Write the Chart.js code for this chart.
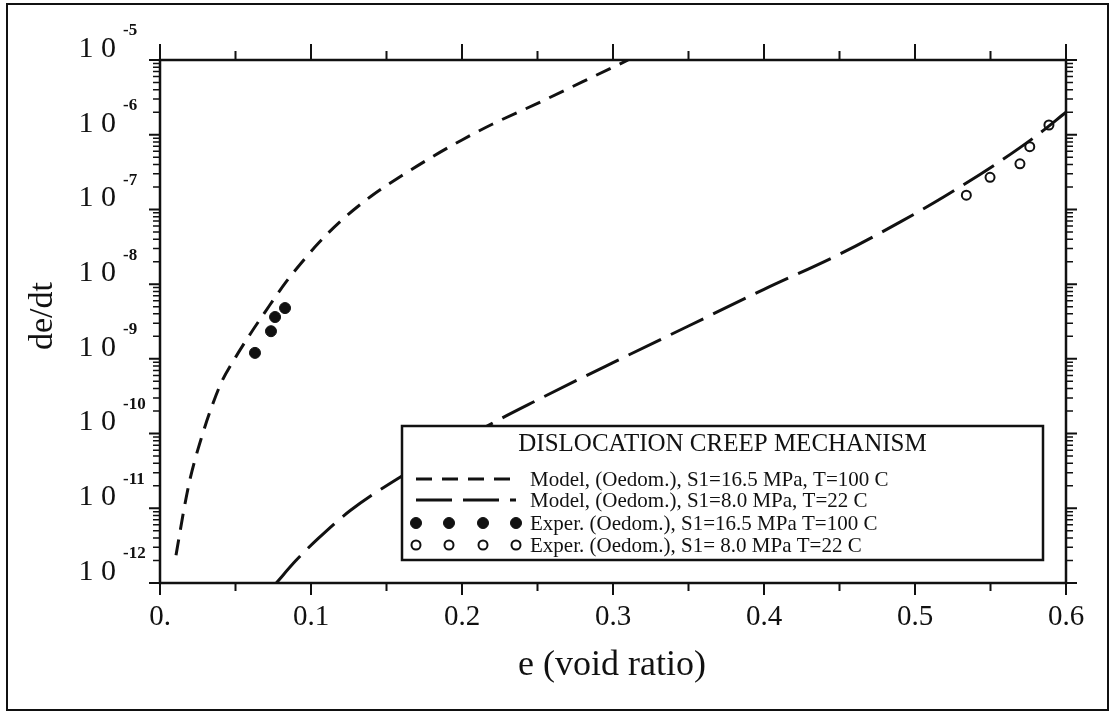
<!DOCTYPE html>
<html>
<head>
<meta charset="utf-8">
<script src="https://cdn.jsdelivr.net/npm/chart.js@4.4.1/dist/chart.umd.min.js"></script>
<style>
  html, body { margin: 0; padding: 0; background: #fff; }
  #wrap { width: 1112px; height: 714px; }
</style>
</head>
<body>
<div id="wrap"><canvas id="creepChart" width="1112" height="714"></canvas></div>
<script>
// Model curve, S1=16.5 MPa, T=100 C  (void ratio, log10 of de/dt)
const hotModelE   = [0.0106, 0.016, 0.02, 0.028, 0.035, 0.041, 0.05, 0.06, 0.07, 0.0835, 0.093, 0.105, 0.12, 0.14, 0.16, 0.18, 0.2, 0.22, 0.25, 0.28, 0.31];
const hotModelLog = [-11.63, -11.0, -10.6, -10.02, -9.6, -9.3, -8.98, -8.66, -8.36, -7.97, -7.73, -7.45, -7.15, -6.82, -6.55, -6.3, -6.07, -5.86, -5.58, -5.29, -5.0];

// Model curve, S1=8.0 MPa, T=22 C
const coldModelE   = [0.077, 0.09, 0.105, 0.126, 0.16, 0.19, 0.2166, 0.25, 0.3, 0.35, 0.4, 0.45, 0.49, 0.52, 0.556, 0.58, 0.6];
const coldModelLog = [-12.0, -11.7, -11.4, -11.03, -10.57, -10.22, -9.9, -9.55, -9.05, -8.56, -8.07, -7.6, -7.17, -6.82, -6.36, -6.02, -5.7];

// Oedometer measurements
const hotExpE   = [0.0629, 0.0735, 0.0762, 0.0828];
const hotExpLog = [-8.92, -8.63, -8.44, -8.32];
const coldExpE   = [0.534, 0.5497, 0.5695, 0.576, 0.5887];
const coldExpLog = [-6.81, -6.57, -6.39, -6.16, -5.87];

const xMajorTicks = [0, 0.1, 0.2, 0.3, 0.4, 0.5, 0.6];
const xTickLabels = ['0.', '0.1', '0.2', '0.3', '0.4', '0.5', '0.6'];
const xMinorTicks = [0.05, 0.15, 0.25, 0.35, 0.45, 0.55];
const yDecades = [-5, -6, -7, -8, -9, -10, -11, -12];

const legendTitle = 'DISLOCATION CREEP MECHANISM';
const seriesLabels = [
  'Model, (Oedom.), S1=16.5 MPa, T=100 C',
  'Model, (Oedom.), S1=8.0 MPa, T=22 C',
  'Exper. (Oedom.), S1=16.5 MPa T=100 C',
  'Exper. (Oedom.), S1= 8.0 MPa T=22 C'
];

const INK = '#111';
const SERIF = '"Liberation Serif", "DejaVu Serif", serif';

function toPoints(es, logs) {
  return es.map((e, i) => ({ x: e, y: Math.pow(10, logs[i]) }));
}

// frame, ticks, tick labels, titles and the boxed legend
const decorPlugin = {
  id: 'decor',
  afterDatasetsDraw(chart) {
    const { ctx, chartArea: a, scales: { x, y } } = chart;
    ctx.save();
    ctx.strokeStyle = INK;
    ctx.fillStyle = INK;
    ctx.setLineDash([]);

    // outer border
    ctx.lineWidth = 2;
    ctx.strokeRect(7, 4, 1101, 706);

    // legend box (drawn over the curves)
    const lx = 402, ly = 426, lw = 641, lh = 134;
    ctx.fillStyle = '#fff';
    ctx.fillRect(lx, ly, lw, lh);
    ctx.lineWidth = 2.5;
    ctx.strokeRect(lx, ly, lw, lh);
    ctx.fillStyle = INK;
    ctx.font = '25px ' + SERIF;
    ctx.textAlign = 'center';
    ctx.textBaseline = 'middle';
    ctx.fillText(legendTitle, lx + lw / 2, 444);

    const rows = [479, 500, 523, 545];
    ctx.font = '21px ' + SERIF;
    ctx.textAlign = 'left';
    chart.data.datasets.forEach((ds, i) => {
      const ry = rows[i];
      if (ds.showLine) {
        ctx.lineWidth = 3;
        ctx.setLineDash(ds.borderDash);
        ctx.beginPath();
        ctx.moveTo(416, ry);
        ctx.lineTo(516, ry);
        ctx.stroke();
        ctx.setLineDash([]);
      } else {
        [416, 449, 483, 516].forEach(cx => {
          ctx.beginPath();
          ctx.arc(cx, ry, ds.pointRadius, 0, Math.PI * 2);
          ctx.fillStyle = ds.backgroundColor;
          ctx.fill();
          ctx.lineWidth = ds.borderWidth;
          ctx.stroke();
        });
        ctx.fillStyle = INK;
      }
      ctx.fillText(seriesLabels[i], 530, ry + 1);
    });

    // plot frame
    ctx.lineWidth = 2.5;
    ctx.strokeRect(a.left, a.top, a.right - a.left, a.bottom - a.top);

    // x ticks, outward on bottom and top
    ctx.lineWidth = 2;
    const xTick = (v, down, up) => {
      const px = x.getPixelForValue(v);
      ctx.beginPath();
      ctx.moveTo(px, a.bottom); ctx.lineTo(px, a.bottom + down);
      ctx.moveTo(px, a.top); ctx.lineTo(px, a.top - up);
      ctx.stroke();
    };
    xMajorTicks.forEach(v => xTick(v, 12, 16));
    xMinorTicks.forEach(v => xTick(v, 8, 9));

    // y ticks, outward on left and right
    const yTick = (v, len) => {
      const py = y.getPixelForValue(v);
      ctx.beginPath();
      ctx.moveTo(a.left, py); ctx.lineTo(a.left - len, py);
      ctx.moveTo(a.right, py); ctx.lineTo(a.right + len, py);
      ctx.stroke();
    };
    yDecades.forEach(d => yTick(Math.pow(10, d), 11));
    ctx.lineWidth = 1.5;
    yDecades.slice(1).forEach(d => {
      for (let k = 2; k <= 9; k++) yTick(k * Math.pow(10, d), 7);
    });

    // x tick labels
    ctx.font = '29px ' + SERIF;
    ctx.textAlign = 'center';
    ctx.textBaseline = 'middle';
    xMajorTicks.forEach((v, i) => {
      ctx.fillText(xTickLabels[i], x.getPixelForValue(v), 617);
    });

    // y tick labels: 10 with a raised exponent
    yDecades.forEach(d => {
      const py = y.getPixelForValue(Math.pow(10, d));
      ctx.font = '30px ' + SERIF;
      ctx.textAlign = 'right';
      ctx.fillText('1 0', 116, py - 11);
      ctx.font = 'bold 17px ' + SERIF;
      ctx.textAlign = 'left';
      ctx.fillText(String(d), 123, py - 29);
    });

    // axis titles
    ctx.font = '36px ' + SERIF;
    ctx.textAlign = 'center';
    ctx.fillText('e (void ratio)', 612, 666);
    ctx.save();
    ctx.translate(43, 316);
    ctx.rotate(-Math.PI / 2);
    ctx.font = '34px ' + SERIF;
    ctx.fillText('de/dt', 0, 0);
    ctx.restore();

    ctx.restore();
  }
};

new Chart(document.getElementById('creepChart'), {
  type: 'scatter',
  data: {
    datasets: [
      {
        label: seriesLabels[0],
        data: toPoints(hotModelE, hotModelLog),
        showLine: true,
        borderColor: INK,
        borderWidth: 3,
        borderDash: [16, 10],
        cubicInterpolationMode: 'monotone',
        pointRadius: 0
      },
      {
        label: seriesLabels[1],
        data: toPoints(coldModelE, coldModelLog),
        showLine: true,
        borderColor: INK,
        borderWidth: 3,
        borderDash: [36, 11],
        cubicInterpolationMode: 'monotone',
        pointRadius: 0
      },
      {
        label: seriesLabels[2],
        data: toPoints(hotExpE, hotExpLog),
        showLine: false,
        pointRadius: 5.5,
        backgroundColor: INK,
        borderColor: INK,
        borderWidth: 1
      },
      {
        label: seriesLabels[3],
        data: toPoints(coldExpE, coldExpLog),
        showLine: false,
        pointRadius: 4.5,
        backgroundColor: '#fff',
        borderColor: INK,
        borderWidth: 2
      }
    ]
  },
  options: {
    responsive: false,
    animation: false,
    devicePixelRatio: 1,
    layout: { padding: { left: 160, right: 46, top: 60, bottom: 131 } },
    scales: {
      x: { type: 'linear', min: 0, max: 0.6, display: false },
      y: { type: 'logarithmic', min: 1e-12, max: 1e-5, display: false }
    },
    plugins: {
      legend: { display: false },
      tooltip: { enabled: false }
    }
  },
  plugins: [decorPlugin]
});
</script>
</body>
</html>
